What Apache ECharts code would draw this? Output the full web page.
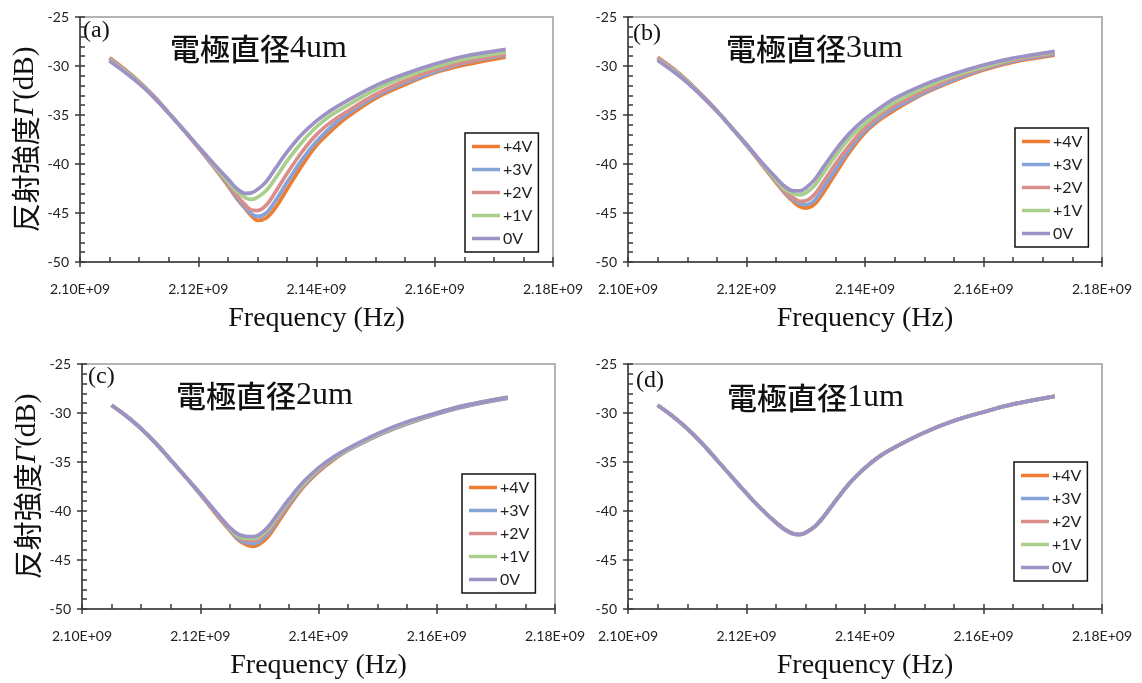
<!DOCTYPE html>
<html><head><meta charset="utf-8">
<script src="https://cdn.jsdelivr.net/npm/echarts@6/dist/echarts.min.js"></script>
<style>html,body{margin:0;padding:0;background:#fff}#c{width:1142px;height:683px}</style>
</head><body><div id="c"></div>
<script>
// ---------- data ----------
const FREQ = [2.105e9, 2.1075e9, 2.110e9, 2.1125e9, 2.115e9, 2.1175e9, 2.120e9, 2.1225e9, 2.125e9, 2.1265e9,
  2.128e9, 2.129e9, 2.130e9, 2.1315e9, 2.133e9, 2.135e9, 2.1375e9, 2.140e9, 2.1425e9, 2.145e9,
  2.150e9, 2.155e9, 2.160e9, 2.165e9, 2.172e9];
const SERIES_NAMES = ['+4V', '+3V', '+2V', '+1V', '0V'];
const PANEL_LABELS = ['(a)', '(b)', '(c)', '(d)'];
const TITLE_CJK = '電極直径';
const DIAMETERS = ['4um', '3um', '2um', '1um'];
const Y_TICKS = [-50, -45, -40, -35, -30, -25];
const X_TICK_LABELS = ['2.10E+09', '2.12E+09', '2.14E+09', '2.16E+09', '2.18E+09'];

// (a) 4um
const A_4V = [-29.15, -30.3, -31.6, -33.1, -34.8, -36.5, -38.3, -40.2, -42.2, -43.5, -44.6, -45.3, -45.75, -45.5, -44.5, -42.6, -40.2, -38.1, -36.6, -35.3, -33.3, -31.9, -30.7, -29.9, -29.1];
const A_3V = [-29.2, -30.35, -31.65, -33.1, -34.8, -36.5, -38.3, -40.2, -42.1, -43.4, -44.5, -45.1, -45.35, -45.0, -43.8, -41.9, -39.6, -37.7, -36.2, -35.0, -33.1, -31.7, -30.6, -29.7, -28.9];
const A_2V = [-29.3, -30.4, -31.7, -33.1, -34.8, -36.5, -38.3, -40.1, -42.0, -43.2, -44.2, -44.7, -44.75, -44.2, -42.9, -41.0, -38.8, -37.0, -35.7, -34.7, -32.9, -31.5, -30.4, -29.6, -28.8];
const A_1V = [-29.4, -30.5, -31.7, -33.2, -34.8, -36.5, -38.2, -40.0, -41.8, -42.8, -43.45, -43.6, -43.4, -42.7, -41.5, -39.7, -37.8, -36.2, -35.0, -34.1, -32.4, -31.1, -30.1, -29.3, -28.6];
const A_0V = [-29.5, -30.6, -31.8, -33.2, -34.8, -36.5, -38.2, -39.9, -41.5, -42.5, -43.0, -42.95, -42.6, -41.8, -40.5, -38.8, -37.0, -35.6, -34.5, -33.6, -32.0, -30.8, -29.8, -29.0, -28.3];
// (b) 3um
const B_4V = [-29.1, -30.2, -31.5, -33.0, -34.6, -36.3, -38.1, -40.0, -41.9, -43.0, -43.9, -44.35, -44.5, -44.1, -42.9, -41.0, -38.7, -36.8, -35.5, -34.5, -32.8, -31.5, -30.4, -29.6, -28.9];
const B_3V = [-29.15, -30.25, -31.55, -33.0, -34.6, -36.3, -38.1, -39.9, -41.8, -42.9, -43.7, -44.05, -44.15, -43.7, -42.4, -40.6, -38.4, -36.6, -35.3, -34.3, -32.7, -31.4, -30.3, -29.5, -28.8];
const B_2V = [-29.2, -30.3, -31.6, -33.0, -34.6, -36.3, -38.0, -39.9, -41.7, -42.8, -43.5, -43.8, -43.75, -43.1, -41.8, -40.0, -38.0, -36.3, -35.0, -34.0, -32.5, -31.2, -30.2, -29.4, -28.7];
const B_1V = [-29.3, -30.4, -31.6, -33.1, -34.6, -36.3, -38.0, -39.9, -41.6, -42.6, -43.05, -43.15, -42.95, -42.2, -40.9, -39.2, -37.3, -35.9, -34.7, -33.7, -32.2, -31.0, -30.1, -29.3, -28.6];
const B_0V = [-29.4, -30.5, -31.7, -33.1, -34.6, -36.3, -38.0, -39.8, -41.4, -42.3, -42.75, -42.75, -42.45, -41.6, -40.3, -38.6, -36.8, -35.4, -34.3, -33.3, -31.9, -30.8, -29.9, -29.2, -28.5];
// (c) 2um
const C_4V = [-29.2, -30.3, -31.6, -33.1, -34.8, -36.5, -38.3, -40.2, -42.0, -43.0, -43.5, -43.6, -43.4, -42.6, -41.3, -39.5, -37.5, -36.0, -34.8, -33.8, -32.3, -31.1, -30.1, -29.3, -28.5];
const C_3V = [-29.2, -30.3, -31.6, -33.1, -34.8, -36.5, -38.3, -40.1, -41.9, -42.9, -43.25, -43.3, -43.1, -42.3, -41.0, -39.3, -37.4, -35.9, -34.7, -33.8, -32.3, -31.1, -30.1, -29.3, -28.5];
const C_2V = [-29.2, -30.3, -31.6, -33.1, -34.8, -36.5, -38.2, -40.1, -41.8, -42.7, -43.0, -43.0, -42.8, -42.0, -40.8, -39.1, -37.3, -35.8, -34.6, -33.7, -32.2, -31.0, -30.0, -29.2, -28.4];
const C_1V = [-29.2, -30.3, -31.6, -33.1, -34.8, -36.5, -38.2, -40.0, -41.8, -42.6, -42.8, -42.8, -42.6, -41.8, -40.6, -39.0, -37.2, -35.7, -34.6, -33.7, -32.2, -31.0, -30.0, -29.2, -28.4];
const C_0V = [-29.2, -30.3, -31.6, -33.1, -34.8, -36.5, -38.2, -40.0, -41.7, -42.4, -42.6, -42.6, -42.4, -41.6, -40.4, -38.8, -37.0, -35.6, -34.5, -33.6, -32.1, -30.9, -30.0, -29.2, -28.4];
// (d) 1um (all bias curves coincide)
const D_4V = [-29.2, -30.3, -31.6, -33.1, -34.8, -36.5, -38.2, -39.8, -41.2, -41.9, -42.35, -42.4, -42.2, -41.6, -40.6, -39.0, -37.1, -35.6, -34.4, -33.5, -32.0, -30.8, -29.9, -29.1, -28.3];
const D_3V = [-29.2, -30.3, -31.6, -33.1, -34.8, -36.5, -38.2, -39.8, -41.2, -41.9, -42.35, -42.4, -42.2, -41.6, -40.6, -39.0, -37.1, -35.6, -34.4, -33.5, -32.0, -30.8, -29.9, -29.1, -28.3];
const D_2V = [-29.2, -30.3, -31.6, -33.1, -34.8, -36.5, -38.2, -39.8, -41.2, -41.9, -42.35, -42.4, -42.2, -41.6, -40.6, -39.0, -37.1, -35.6, -34.4, -33.5, -32.0, -30.8, -29.9, -29.1, -28.3];
const D_1V = [-29.2, -30.3, -31.6, -33.1, -34.8, -36.5, -38.2, -39.8, -41.2, -41.9, -42.35, -42.4, -42.2, -41.6, -40.6, -39.0, -37.1, -35.6, -34.4, -33.5, -32.0, -30.8, -29.9, -29.1, -28.3];
const D_0V = [-29.2, -30.3, -31.6, -33.1, -34.8, -36.5, -38.2, -39.8, -41.2, -41.9, -42.35, -42.4, -42.2, -41.6, -40.6, -39.0, -37.1, -35.6, -34.4, -33.5, -32.0, -30.8, -29.9, -29.1, -28.3];

const PANEL_DATA = [
  [A_4V, A_3V, A_2V, A_1V, A_0V],
  [B_4V, B_3V, B_2V, B_1V, B_0V],
  [C_4V, C_3V, C_2V, C_1V, C_0V],
  [D_4V, D_3V, D_2V, D_1V, D_0V]
];

// ---------- layout / style ----------
const COLORS = ['#ED7D31', '#86A3D8', '#DA8E8B', '#A8CF8B', '#9D91C6'];
const GRIDS = [
  { left: 80, top: 17, width: 473, height: 245 },
  { left: 628, top: 17, width: 474, height: 245 },
  { left: 82, top: 364, width: 473, height: 245 },
  { left: 628, top: 364, width: 474, height: 245 }
];
const LEGEND_POS = [[465, 133], [1015, 128], [462, 474], [1014, 462]];
const TITLE_POS = [[170, 33], [726, 33], [176, 380], [727, 382]];
const LABEL_POS = [[83, 19], [633, 22], [88, 365], [636, 369]];

const SANS = 'Lato, "Liberation Sans", sans-serif';
const SERIF = '"Liberation Serif", "DejaVu Serif", serif';
const CJK = '"Noto Sans CJK JP", "Noto Sans CJK SC", sans-serif';

const grid = [], xAxis = [], yAxis = [], series = [], legend = [], title = [];

GRIDS.forEach((g, p) => {
  grid.push(Object.assign({ show: true, borderColor: '#b4b4b4', borderWidth: 2, backgroundColor: 'transparent' }, g));
  xAxis.push({
    type: 'value', gridIndex: p, position: 'bottom', min: 2.10e9, max: 2.18e9, interval: 0.02e9,
    axisLine: { show: true, lineStyle: { color: '#3a3a3a', width: 1.5 } },
    axisTick: { show: true, inside: false, length: 5, lineStyle: { color: '#3a3a3a', width: 1.5 } },
    splitLine: { show: false },
    axisLabel: {
      margin: 20, fontSize: 14, color: '#222', fontFamily: SANS,
      formatter: v => X_TICK_LABELS[Math.round((v - 2.10e9) / 0.02e9)] || ''
    },
    name: 'Frequency (Hz)', nameLocation: 'middle', nameGap: 43,
    nameTextStyle: { fontFamily: SERIF, fontSize: 28, color: '#111' }
  });
  xAxis.push({
    type: 'value', gridIndex: p, position: 'bottom', min: 2.10e9, max: 2.18e9, interval: 0.005e9,
    axisLine: { show: false }, axisLabel: { show: false }, splitLine: { show: false },
    axisTick: { show: true, inside: true, length: 5, lineStyle: { color: '#3a3a3a', width: 1.5 } }
  });
  const yMain = {
    type: 'value', gridIndex: p, position: 'left', min: -50, max: -25, interval: 5,
    axisLine: { show: true, lineStyle: { color: '#3a3a3a', width: 1.5 } },
    axisTick: { show: true, inside: false, length: 5, lineStyle: { color: '#3a3a3a', width: 1.5 } },
    splitLine: { show: false },
    axisLabel: { margin: 11, fontSize: 14, color: '#222', fontFamily: SANS,
      formatter: v => Y_TICKS.indexOf(v) >= 0 ? String(v) : '' }
  };
  if (p === 0 || p === 2) {
    yMain.name = '{c|反射強度}{g|Γ}{n|(dB)}';
    yMain.nameLocation = 'middle';
    yMain.nameGap = 40;
    yMain.nameTextStyle = {
      rich: {
        c: { fontFamily: CJK, fontSize: 29, color: '#111' },
        g: { fontFamily: SERIF, fontStyle: 'italic', fontSize: 29, color: '#111' },
        n: { fontFamily: SERIF, fontSize: 29, color: '#111' }
      }
    };
  }
  yAxis.push(yMain);
  yAxis.push({
    type: 'value', gridIndex: p, position: 'left', min: -50, max: -25, interval: 1,
    axisLine: { show: false }, axisLabel: { show: false }, splitLine: { show: false },
    axisTick: { show: true, inside: true, length: 5, lineStyle: { color: '#3a3a3a', width: 1.5 } }
  });

  PANEL_DATA[p].forEach((vals, s) => {
    series.push({
      type: 'line', name: SERIES_NAMES[s], xAxisIndex: 2 * p, yAxisIndex: 2 * p,
      data: FREQ.map((f, i) => [f, vals[i]]),
      smooth: 0.35, symbol: 'none', silent: true, animation: false,
      lineStyle: { color: COLORS[s], width: 3.7 },
      itemStyle: { color: COLORS[s] }
    });
  });

  legend.push({
    data: SERIES_NAMES.map(n => ({ name: n, icon: 'rect' })),
    orient: 'vertical', left: LEGEND_POS[p][0], top: LEGEND_POS[p][1],
    borderColor: '#111', borderWidth: 1.5, padding: [5, 6, 5, 7], itemGap: 6,
    itemWidth: 28, itemHeight: 3.5, selectedMode: false,
    textStyle: { fontFamily: SANS, fontSize: 16, color: '#222', lineHeight: 17, padding: [0, 0, 0, -2] }
  });

  title.push({
    text: '{c|' + TITLE_CJK + '}{n|' + DIAMETERS[p] + '}',
    left: TITLE_POS[p][0], top: TITLE_POS[p][1], padding: 0,
    textStyle: { rich: {
      c: { fontFamily: CJK, fontSize: 30, color: '#111', fontWeight: 500 },
      n: { fontFamily: SERIF, fontSize: 32, color: '#111', fontWeight: 'normal' }
    } }
  });
  title.push({
    text: PANEL_LABELS[p], left: LABEL_POS[p][0], top: LABEL_POS[p][1], padding: 0,
    textStyle: { fontFamily: SERIF, fontSize: 24, color: '#111', fontWeight: 'normal' }
  });
});

const chart = echarts.init(document.getElementById('c'), null, { renderer: 'canvas' });
chart.setOption({ animation: false, backgroundColor: '#fff', grid, xAxis, yAxis, series, legend, title });
</script></body></html>
